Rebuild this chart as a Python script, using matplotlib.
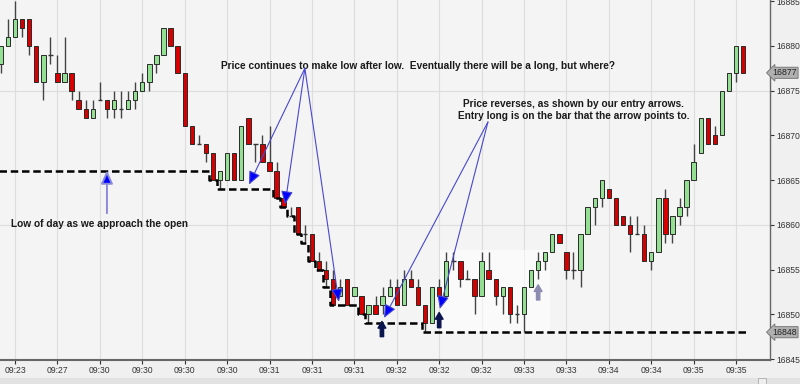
import matplotlib
matplotlib.use("Agg")
import matplotlib.pyplot as plt
import matplotlib.transforms as mtransforms
from matplotlib.patches import Rectangle
import numpy as np

plt.rcParams['font.family'] = ['Liberation Sans', 'DejaVu Sans']

# ── data: 1-min bars (open / high / low / close) ─────────────────────────────
opens = [16878, 16880, 16881, 16883, 16883, 16880, 16876, 16879, 16877, 16876,
         16877, 16874, 16873, 16872, 16874, 16874, 16873, 16873, 16873, 16874,
         16875, 16876, 16878, 16879, 16882, 16880, 16877, 16871, 16869, 16869,
         16868, 16865, 16865, 16868, 16865, 16872, 16869, 16869, 16867, 16866,
         16863, 16861, 16862, 16859, 16859, 16856, 16855, 16854, 16852, 16854,
         16852, 16852, 16850, 16851, 16851, 16852, 16853, 16851, 16854, 16853,
         16851, 16849, 16853, 16852, 16856, 16856, 16854, 16854, 16852, 16855,
         16854, 16852, 16853, 16850, 16850, 16853, 16855, 16856, 16857, 16859,
         16857, 16855, 16855, 16859, 16862, 16863, 16864, 16863, 16861, 16860,
         16859, 16859, 16856, 16857, 16863, 16859, 16861, 16862, 16865, 16868,
         16872, 16870, 16870, 16875, 16877, 16880]
highs = [16880, 16883, 16885, 16883, 16883, 16880, 16879, 16881, 16879, 16881,
         16877, 16875, 16874, 16874, 16876, 16874, 16875, 16875, 16875, 16876,
         16877, 16878, 16879, 16882, 16882, 16880, 16877, 16871, 16870, 16869,
         16868, 16866, 16868, 16868, 16871, 16872, 16869, 16870, 16871, 16867,
         16863, 16862, 16862, 16860, 16859, 16857, 16856, 16855, 16854, 16854,
         16853, 16852, 16851, 16852, 16853, 16854, 16854, 16855, 16855, 16854,
         16851, 16853, 16854, 16857, 16857, 16856, 16855, 16854, 16857, 16857,
         16854, 16853, 16853, 16851, 16853, 16855, 16857, 16857, 16859, 16859,
         16857, 16857, 16859, 16862, 16863, 16865, 16864, 16863, 16861, 16861,
         16861, 16860, 16857, 16863, 16864, 16861, 16863, 16865, 16869, 16872,
         16872, 16871, 16875, 16877, 16880, 16880]
lows = [16877, 16880, 16881, 16881, 16879, 16876, 16874, 16878, 16876, 16876,
        16874, 16873, 16872, 16872, 16874, 16872, 16872, 16872, 16873, 16873,
        16875, 16875, 16877, 16879, 16880, 16877, 16871, 16869, 16869, 16867,
        16865, 16864, 16865, 16865, 16865, 16869, 16867, 16867, 16866, 16863,
        16862, 16861, 16859, 16858, 16856, 16855, 16853, 16851, 16852, 16851,
        16852, 16850, 16849, 16850, 16850, 16852, 16851, 16851, 16853, 16851,
        16848, 16849, 16852, 16852, 16855, 16853, 16854, 16850, 16852, 16854,
        16851, 16850, 16849, 16849, 16848, 16853, 16854, 16855, 16857, 16858,
        16854, 16854, 16853, 16859, 16860, 16862, 16863, 16860, 16860, 16857,
        16859, 16856, 16855, 16857, 16858, 16858, 16860, 16861, 16865, 16868,
        16869, 16869, 16870, 16875, 16876, 16877]
closes = [16880, 16881, 16883, 16882, 16880, 16876, 16879, 16879, 16876, 16877,
          16875, 16873, 16872, 16873, 16874, 16873, 16874, 16873, 16874, 16875,
          16876, 16878, 16879, 16882, 16880, 16877, 16871, 16869, 16869, 16868,
          16865, 16866, 16868, 16865, 16871, 16869, 16869, 16867, 16866, 16863,
          16862, 16861, 16859, 16859, 16856, 16855, 16854, 16851, 16853, 16851,
          16853, 16850, 16851, 16850, 16852, 16853, 16851, 16854, 16853, 16851,
          16849, 16853, 16852, 16856, 16856, 16854, 16854, 16852, 16856, 16854,
          16852, 16853, 16850, 16850, 16853, 16855, 16856, 16857, 16859, 16858,
          16855, 16855, 16859, 16862, 16863, 16865, 16863, 16860, 16860, 16859,
          16859, 16856, 16857, 16863, 16859, 16861, 16862, 16865, 16867, 16872,
          16869, 16869, 16875, 16877, 16880, 16877]
prior_low = 16866  # low of day carried in from before the chart

tick_bars = list(range(2, 105, 6))
tick_labels = ['09:23', '09:27', '09:30', '09:30', '09:30', '09:30',
               '09:31', '09:31', '09:31', '09:32', '09:32', '09:32',
               '09:33', '09:33', '09:34', '09:34', '09:35', '09:35']

o = np.array(opens); h = np.array(highs); l = np.array(lows); c = np.array(closes)
x = np.arange(len(o))

fig = plt.figure(figsize=(8, 3.84), dpi=100, facecolor='#f0f0f0')
ax = fig.add_axes([0, 24 / 384, 770 / 800, 360 / 384])
ax.set_facecolor('#f4f4f4')

# grid
for t in tick_bars:
    ax.axvline(t, color='#dddddd', lw=0.8, zorder=0)
for g in (16860, 16875):
    ax.axhline(g, color='#dddddd', lw=0.8, zorder=0)

# pale highlight box behind the reversal area
ax.add_patch(Rectangle((62.1, 16848.0), 15.6, 9.2, fc='white', ec='none',
                       alpha=0.55, zorder=0.5))

# ── candles ───────────────────────────────────────────────────────────────────
ax.vlines(x, l, h, color='#444444', lw=1.0, zorder=2)
up = c > o
dn = c < o
eq = c == o
ax.bar(x[up], (c - o)[up], bottom=o[up], width=0.62, color='#93e093',
       edgecolor='#2a2a2a', lw=0.7, zorder=3)
ax.bar(x[dn], (c - o)[dn], bottom=o[dn], width=0.62, color='#d60000',
       edgecolor='#2a2a2a', lw=0.7, zorder=3)
ax.hlines(o[eq], x[eq] - 0.31, x[eq] + 0.31, color='#333333', lw=1.0, zorder=3)

# ── running low of day (stepped dashed line) ─────────────────────────────────
run_low = np.minimum.accumulate(np.concatenate([[prior_low], l]))[1:]
edges = np.concatenate([x - 0.5, [x[-1] + 0.5]])
ax.step(edges, np.concatenate([run_low, [run_low[-1]]]), where='post',
        color='black', lw=1.8, ls=(0, (3, 1.5)), zorder=4)

# ── annotations ───────────────────────────────────────────────────────────────
txt_kw = dict(fontsize=7.3, fontweight='bold', color='#1a1a1a', zorder=6)
line_col = '#4848d0'
head = '-|>,head_length=1.0,head_width=0.45'

ax.text(14.0, 16860.1, 'Low of day as we approach the open', ha='center',
        va='center', **txt_kw)
ax.annotate('', xy=(15.0, 16866.1), xytext=(15.0, 16861.3),
            arrowprops=dict(arrowstyle=head, mutation_scale=8, lw=1.4,
                            ec='#8a8ad8', fc='#0000ff', shrinkA=0, shrinkB=0),
            zorder=6)

ax.text(59.0, 16877.8, 'Price continues to make low after low.  '
        'Eventually there will be a long, but where?', ha='center',
        va='center', **txt_kw)
for tip in [(35.1, 16864.5), (40.2, 16862.3), (47.8, 16851.4)]:
    ax.annotate('', xy=tip, xytext=(43.0, 16877.5),
                arrowprops=dict(arrowstyle=head, mutation_scale=8, lw=0.8,
                                ec=line_col, fc='#0000ff', shrinkA=0,
                                shrinkB=0), zorder=6)

ax.text(81.0, 16872.8, 'Price reverses, as shown by our entry arrows.\n'
        'Entry long is on the bar that the arrow points to.', ha='center',
        va='center', linespacing=1.25, **txt_kw)
for tip in [(54.2, 16849.6), (62.1, 16850.6)]:
    ax.annotate('', xy=tip, xytext=(68.9, 16871.5),
                arrowprops=dict(arrowstyle=head, mutation_scale=8, lw=0.8,
                                ec=line_col, fc='#0000ff', shrinkA=0,
                                shrinkB=0), zorder=6)

# entry arrows under the bars
for bx, by, col in [(53.9, 16847.5, '#0c1450'), (62.0, 16848.5, '#0c1450'),
                    (76.0, 16851.6, '#8c8cb0')]:
    ax.annotate('', xy=(bx, by + 1.7), xytext=(bx, by),
                arrowprops=dict(arrowstyle='simple,head_length=0.6,head_width=0.7,'
                                'tail_width=0.3', mutation_scale=8, color=col,
                                shrinkA=0, shrinkB=0), zorder=6)

# ── axes ──────────────────────────────────────────────────────────────────────
ax.set_xlim(-0.13, 108.8)
ax.set_ylim(16844.89, 16885.14)
ax.set_xticks(tick_bars)
ax.set_xticklabels(tick_labels)
ax.yaxis.tick_right()
ax.set_yticks(np.arange(16845, 16886, 5))
ax.tick_params(axis='both', labelsize=6.2, colors='#333333', length=3, width=0.8,
               pad=1.5)
for s in ('top', 'left'):
    ax.spines[s].set_visible(False)
ax.spines['bottom'].set_color('#666666')
ax.spines['bottom'].set_linewidth(1.5)
ax.spines['right'].set_color('#666666')
ax.spines['right'].set_linewidth(1.0)

# price tags on the price axis
trans = mtransforms.blended_transform_factory(ax.transAxes, ax.transData)
for p in (closes[-1], int(run_low[-1])):
    ax.text(797 / 770, p, str(p), transform=trans, ha='right', va='center',
            fontsize=6.3, color='#222222', clip_on=False, zorder=7,
            bbox=dict(boxstyle='larrow,pad=0.12', fc='#b0b0b0', ec='#7a7a7a',
                      lw=0.7))

# scrollbar strip at the very bottom
fig.patches.append(Rectangle((0, 0), 1, 6 / 384, transform=fig.transFigure,
                             fc='#e2e2e2', ec='none'))
fig.patches.append(Rectangle((758 / 800, 0), 8 / 800, 6 / 384,
                             transform=fig.transFigure, fc='#eeeeee',
                             ec='#aaaaaa', lw=0.6))

fig.savefig('out.png', dpi=100, facecolor=fig.get_facecolor())
